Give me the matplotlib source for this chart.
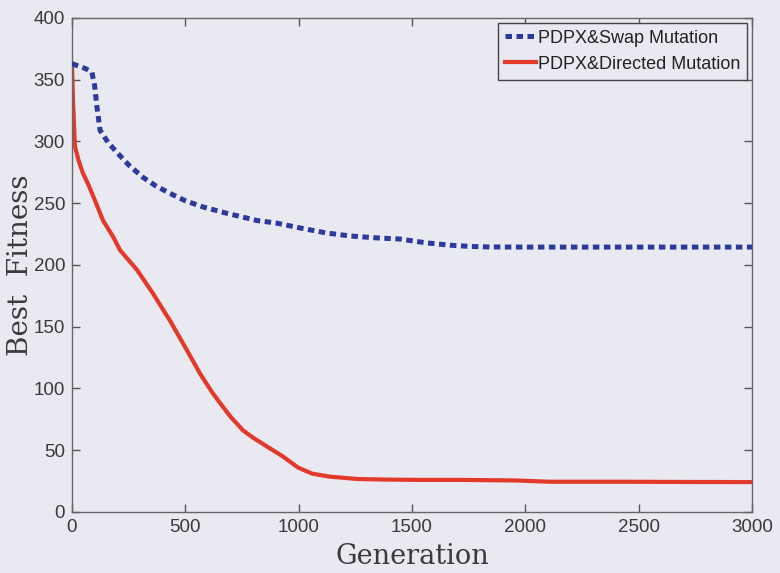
import matplotlib
matplotlib.use("Agg")
import matplotlib.pyplot as plt

# Values
gen_swap = [0, 30, 60, 88, 100, 110, 124, 160, 199, 250, 313, 370, 432, 500, 578, 680,
            816, 900, 1006, 1120, 1226, 1340, 1447, 1560, 1668, 1760, 1844, 2000, 2200,
            2400, 2600, 2800, 3000]
swap_fitness = [363, 361, 359, 356, 345, 328, 309, 299, 291, 281, 271, 264, 258, 252, 247,
                242, 236, 234, 230, 226, 223.5, 222, 221, 218, 216, 215, 214.6, 214.5,
                214.5, 214.5, 214.5, 214.5, 214.5]

gen_directed = [0, 5, 13, 30, 49, 70, 93, 137, 181, 212, 287, 357, 432, 507, 565, 618, 654,
                700, 755, 800, 856, 930, 997, 1060, 1138, 1258, 1400, 1520, 1700, 1963, 2100,
                2400, 2700, 3000]
directed_fitness = [362, 330, 296, 284, 274, 266, 256, 236, 223, 212, 196, 177, 155, 131,
                    112, 97, 88, 77, 66, 60, 53.5, 45, 36, 31, 28.6, 26.7, 26.2, 26, 26, 25.5,
                    24.5, 24.5, 24.3, 24.2]

series_labels = ["PDPX&Swap Mutation", "PDPX&Directed Mutation"]
x_ticks = [0, 500, 1000, 1500, 2000, 2500, 3000]
y_ticks = [0, 50, 100, 150, 200, 250, 300, 350, 400]

bg = "#e9e9f2"
fig = plt.figure(figsize=(7.8, 5.73), dpi=100, facecolor=bg)
ax = fig.add_axes([0.0923, 0.1065, 0.8718, 0.8621], facecolor=bg)

ax.plot(gen_swap, swap_fitness, color="#2b3a9c", linewidth=3.6,
        linestyle=(0, (1.3, 0.9)), label=series_labels[0], zorder=3)
ax.plot(gen_directed, directed_fitness, color="#e3392a", linewidth=3.0,
        label=series_labels[1], zorder=2)

ax.set_xlim(0, 3000)
ax.set_ylim(0, 400)
ax.set_xticks(x_ticks)
ax.set_yticks(y_ticks)
ax.tick_params(direction="in", length=6, width=1, top=True, right=True,
               labelsize=13.5, colors="#555555", labelcolor="#3a3a3a", pad=5)
for tick in ax.get_xticklabels() + ax.get_yticklabels():
    tick.set_family("Liberation Sans")
for spine in ax.spines.values():
    spine.set_color("#666666")
    spine.set_linewidth(1)

ax.set_xlabel("Generation", family="DejaVu Serif", fontsize=19.5, color="#3a3a3a", labelpad=5)
ax.set_ylabel("Best  Fitness", family="DejaVu Serif", fontsize=20, color="#3a3a3a", labelpad=0)

leg = ax.legend(loc="upper right", prop={"family": "Liberation Sans", "size": 13},
                frameon=True, fancybox=False, handlelength=1.7, handletextpad=0.1,
                borderpad=0.4, labelspacing=0.5, borderaxespad=0.25)
leg.get_frame().set_edgecolor("#444444")
leg.get_frame().set_facecolor(bg)
leg.get_frame().set_alpha(1)
leg.get_frame().set_linewidth(1)
for text in leg.get_texts():
    text.set_color("#222222")

fig.savefig("out.png", dpi=100, facecolor=bg)
